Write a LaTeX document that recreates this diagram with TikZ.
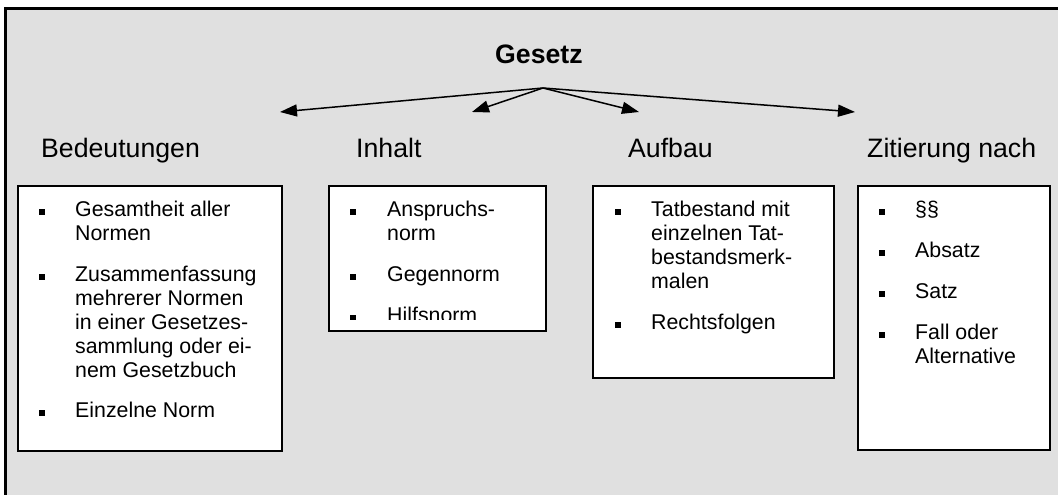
\documentclass[tikz,border=0pt]{standalone}
\usepackage{fontspec}
\setmainfont{Liberation Sans}
\usetikzlibrary{arrows.meta}
\definecolor{bg}{HTML}{E0E0E0}
\begin{document}
\begin{tikzpicture}[x=1pt,y=-1pt,
  body/.style={anchor=base west, inner sep=0pt, font=\fontsize{21.33}{24}\selectfont},
  head/.style={anchor=base west, inner sep=0pt, font=\fontsize{26.67}{30}\selectfont},
  title/.style={anchor=base west, inner sep=0pt, font=\fontsize{26.67}{30}\selectfont\bfseries},
  bul/.style={fill=black, minimum size=5.7pt, inner sep=0pt},
  box/.style={draw=black, fill=white, line width=1.6pt, anchor=north west, inner sep=0pt},
  arr/.style={line width=1.5pt, -{Triangle[length=17pt,width=12pt]}}]
\useasboundingbox (0,0) rectangle (1058,495);
\clip (0,0) rectangle (1058,495);
\fill[white] (0,0) rectangle (1058,495);
\draw[fill=bg, line width=2.7pt] (5.5,8.5) rectangle (1080,520);

% title and arrows
\node[title] (gesetz) at (495,64) {Gesetz};
\coordinate (apex) at (543,88);
\coordinate (t1) at (280,112);
\coordinate (t2) at (472,112);
\coordinate (t3) at (639,112);
\coordinate (t4) at (855,112);
\draw[arr] (apex) -- (t1);
\draw[arr] (apex) -- (t2);
\draw[arr] (apex) -- (t3);
\draw[arr] (apex) -- (t4);

% headings
\node[head] (h1) at (41,157) {Bedeutungen};
\node[head] (h2) at (356,157) {Inhalt};
\node[head] (h3) at (628,157) {Aufbau};
\node[head] (h4) at (867,157) {Zitierung nach};

% boxes
\node[box, minimum width=264pt, minimum height=265pt] (b1) at (17,185) {};
\node[box, minimum width=217pt, minimum height=145pt] (b2) at (328,185) {};
\node[box, minimum width=241pt, minimum height=192pt] (b3) at (592,185) {};
\node[box, minimum width=192pt, minimum height=264pt] (b4) at (857,185) {};

% box 1
\node[bul] (b1p1) at (42.3,211.7) {};
\node[body] (b1l1) at (75,216.7) {Gesamtheit aller};
\node[body] (b1l2) at (75,240.7) {Normen};
\node[bul] (b1p2) at (42.3,276.7) {};
\node[body] (b1l3) at (75,281.7) {Zusammenfassung};
\node[body] (b1l4) at (75,305.7) {mehrerer Normen};
\node[body] (b1l5) at (75,329.7) {in einer Gesetzes-};
\node[body] (b1l6) at (75,353.7) {sammlung oder ei-};
\node[body] (b1l7) at (75,377.7) {nem Gesetzbuch};
\node[bul] (b1p3) at (42.3,412.7) {};
\node[body] (b1l8) at (75,417.7) {Einzelne Norm};

% box 2 (clipped)
\begin{scope}
\clip (328,185) rectangle (545,319);
\node[bul] (b2p1) at (353.3,211.7) {};
\node[body] (b2l1) at (387,216.7) {Anspruchs-};
\node[body] (b2l2) at (387,240.7) {norm};
\node[bul] (b2p2) at (353.3,276.7) {};
\node[body] (b2l3) at (387,281.7) {Gegennorm};
\node[bul] (b2p3) at (353.3,317.7) {};
\node[body] (b2l4) at (387,322.7) {Hilfsnorm};
\end{scope}

% box 3
\node[bul] (b3p1) at (617.8,211.7) {};
\node[body] (b3l1) at (651,216.7) {Tatbestand mit};
\node[body] (b3l2) at (651,240.7) {einzelnen Tat-};
\node[body] (b3l3) at (651,264.7) {bestandsmerk-};
\node[body] (b3l4) at (651,288.7) {malen};
\node[bul] (b3p2) at (617.8,324.7) {};
\node[body] (b3l5) at (651,329.7) {Rechtsfolgen};

% box 4
\node[bul] (b4p1) at (882,211.7) {};
\node[body] (b4l1) at (915,216.7) {§§};
\node[bul] (b4p2) at (882,252.7) {};
\node[body] (b4l2) at (915,257.7) {Absatz};
\node[bul] (b4p3) at (882,293.7) {};
\node[body] (b4l3) at (915,298.7) {Satz};
\node[bul] (b4p4) at (882,334.7) {};
\node[body] (b4l4) at (915,339.7) {Fall oder};
\node[body] (b4l5) at (915,363.7) {Alternative};
\end{tikzpicture}
\end{document}
